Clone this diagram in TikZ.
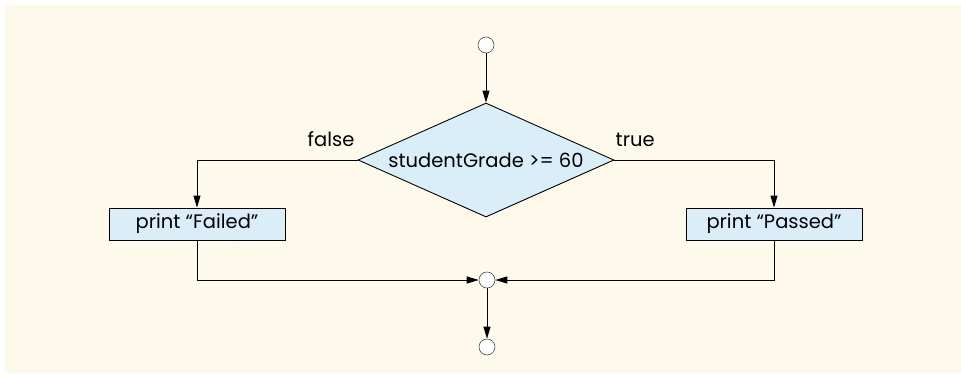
\documentclass[tikz,border=0pt]{standalone}
\usepackage{fontspec}
\setmainfont{Poppins}
\usetikzlibrary{arrows.meta, positioning, shapes.geometric}
\definecolor{paper}{HTML}{FDFAEC}
\definecolor{boxblue}{HTML}{DAEEFA}

\begin{document}
\begin{tikzpicture}[x=1pt, y=-1pt,
    every node/.style={font=\fontsize{19.5}{22}\selectfont},
    flow/.style={line width=0.9pt, -{Triangle[length=12pt, width=7pt]}},
    dot/.style={circle, draw=black!70, fill=white, line width=0.6pt, minimum size=16pt, inner sep=0pt},
    action/.style={rectangle, draw, fill=boxblue, line width=0.9pt, minimum width=176pt, minimum height=32pt, inner sep=0pt},
    test/.style={diamond, draw, fill=boxblue, line width=0.9pt, aspect=2.25, minimum width=256pt, minimum height=114pt, inner sep=0pt},
    lbl/.style={inner sep=0pt}]
    % ==========================================
    % BACKGROUND
    % ==========================================
    \useasboundingbox (0,0) rectangle (961,378);
    \fill[paper] (5,5) rectangle (961,373);

    % ==========================================
    % NODES
    % ==========================================
    % Initial state
    \node[dot] (start) at (486,45) {};
    % Decision
    \node[test] (grade) at (486,160) {studentGrade >= 60};
    % Branch actions
    \node[action] (failed) at (197,224) {print “Failed”};
    \node[action] (passed) at (774,224) {print “Passed”};
    % Merge and final state
    \node[dot] (merge) at (487,280) {};
    \node[dot] (stop) at (487,347) {};

    % Guard labels
    \node[lbl, above left=13pt and 3pt of grade.west] (falselbl) {false};
    \node[lbl, above right=13pt and 1pt of grade.east] (truelbl) {true};

    % ==========================================
    % CONNECTORS
    % ==========================================
    \draw[flow] (start) -- (grade.north);
    \draw[flow] (grade.west) -| (failed.north);
    \draw[flow] (grade.east) -| (passed.north);
    \draw[flow] (failed.south) |- (merge.west);
    \draw[flow] (passed.south) |- (merge.east);
    \draw[flow] (merge) -- (stop);
\end{tikzpicture}
\end{document}
